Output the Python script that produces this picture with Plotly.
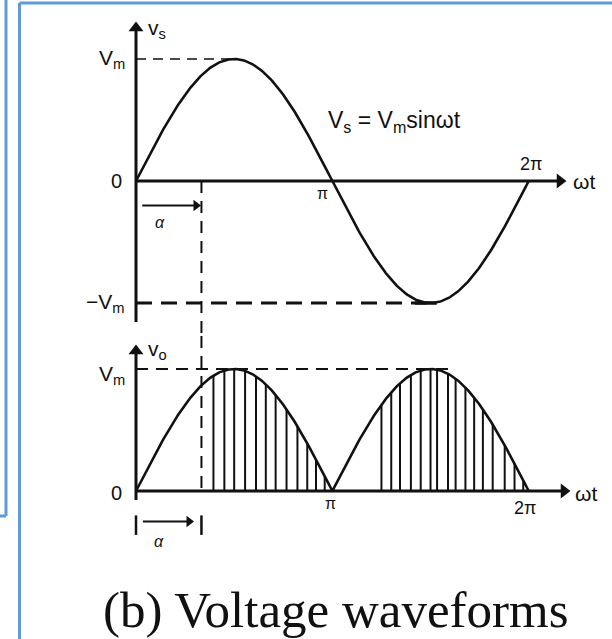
import numpy as np
import plotly.graph_objects as go

# ---------------------------------------------------------------------------
# Data: supply voltage v_s = V_m sin(wt) and rectified output v_o
# ---------------------------------------------------------------------------
V_M = 1.0                      # peak voltage (per unit)
ALPHA_DEG = 60                 # firing angle alpha
OMEGA_T_DEG = np.arange(0, 361, 1)   # one supply cycle, degrees

# hatched conduction strips under v_o, degrees
HATCH_HUMP1_DEG = [71, 81, 90, 100, 110, 119, 128, 138, 148, 157, 165, 173]
HATCH_HUMP2_DEG = [225, 234, 242, 252, 261, 270, 276, 286, 293, 302, 310,
                   318, 327, 338, 347, 355]

# axis tick labels
X_TICK_TEXT = ["π", "2π"]
TOP_Y_TEXT = ["V<sub>m</sub>", "0", "−V<sub>m</sub>"]
BOT_Y_TEXT = ["V<sub>m</sub>", "0"]
FORMULA = "V<sub>s</sub> = V<sub>m</sub>sinωt"
CAPTION = "(b) Voltage waveforms"

# ---------------------------------------------------------------------------
wt = np.deg2rad(OMEGA_T_DEG)
v_s = V_M * np.sin(wt)
v_o = np.abs(v_s)
alpha = np.deg2rad(ALPHA_DEG)
PI = np.pi

INK = "#111111"
SANS = "Liberation Sans, Arial, sans-serif"
SERIF = "Liberation Serif, Times New Roman, serif"

fig = go.Figure()

# supply waveform (top panel)
fig.add_trace(go.Scatter(x=wt, y=v_s, mode="lines", yaxis="y",
                         line=dict(color=INK, width=2.6), hoverinfo="skip"))
# rectified output (bottom panel)
fig.add_trace(go.Scatter(x=wt, y=v_o, mode="lines", yaxis="y2",
                         line=dict(color=INK, width=2.6), hoverinfo="skip"))

# vertical hatching under the conducting part of v_o
hx, hy = [], []
for d in HATCH_HUMP1_DEG + HATCH_HUMP2_DEG:
    r = np.deg2rad(d)
    hx += [r, r, None]
    hy += [0, V_M * abs(np.sin(r)), None]
fig.add_trace(go.Scatter(x=hx, y=hy, mode="lines", yaxis="y2",
                         line=dict(color=INK, width=2), hoverinfo="skip"))

shapes = []
annotations = []


def arrow(x0, y0, x1, y1, yaxis, symbol, width=3, head=13):
    """Line from (x0, y0) to (x1, y1) with a triangular head centred at the end."""
    fig.add_trace(go.Scatter(x=[x0, x1], y=[y0, y1], mode="lines",
                             yaxis=yaxis, line=dict(color=INK, width=width),
                             hoverinfo="skip"))
    fig.add_trace(go.Scatter(x=[x1], y=[y1], mode="markers", yaxis=yaxis,
                             marker=dict(symbol=symbol, size=head, color=INK,
                                         line=dict(width=0)),
                             hoverinfo="skip"))


def dashed(x0, y0, x1, y1, yref, width, dash):
    shapes.append(dict(type="line", xref="x", yref=yref, x0=x0, y0=y0,
                       x1=x1, y1=y1, line=dict(color=INK, width=width,
                                               dash=dash)))


def solid(x0, y0, x1, y1, yref, width):
    shapes.append(dict(type="line", xref="x", yref=yref, x0=x0, y0=y0,
                       x1=x1, y1=y1, line=dict(color=INK, width=width)))


def label(x, y, text, yref, size=17, xanchor="center", italic=False,
          font=SANS):
    annotations.append(dict(x=x, y=y, xref="x", yref=yref, text=text,
                            showarrow=False, xanchor=xanchor,
                            yanchor="middle",
                            font=dict(family=font, size=size, color=INK,
                                      style="italic" if italic else "normal")))


# ---- top panel: v_s ----
dashed(0, V_M, PI / 2, V_M, "y", 1.6, "10px,7px")           # V_m level
dashed(0, -V_M, 3 * PI / 2, -V_M, "y", 3.2, "16px,9px")     # -V_m level
solid(3 * PI / 2 - 0.25, -V_M, 3 * PI / 2 + 0.1, -V_M, "y", 3.5)
dashed(alpha, 0, alpha, -1.27 * V_M, "y", 2, "12px,8px")   # firing instant
arrow(0, -1.156 * V_M, 0, 1.254 * V_M, "y", "triangle-up")  # v_s axis
arrow(0, 0, 6.784, 0, "y", "triangle-right")                # wt axis
arrow(0.1, -0.2, 0.96, -0.2, "y", "triangle-right", 2, 10)  # alpha span

label(-0.14, V_M, TOP_Y_TEXT[0], "y", 21, "right")
label(-0.2, 0, TOP_Y_TEXT[1], "y", 20, "right")
label(-0.14, -V_M, TOP_Y_TEXT[2], "y", 21, "right")
label(0.33, 1.246, "v<sub>s</sub>", "y", 21)
label(PI - 0.16, -0.1, X_TICK_TEXT[0], "y", 16)
label(2 * PI + 0.03, 0.14, X_TICK_TEXT[1], "y", 18)
label(7.17, 0, "ωt", "y", 21)
label(4.13, 0.484, FORMULA, "y", 23)
label(0.38, -0.34, "α", "y", 16, italic=True)

# ---- bottom panel: v_o ----
dashed(0, V_M, 3 * PI / 2 + 0.36, V_M, "y2", 2, "12px,8px")  # V_m level
dashed(alpha, 1.27 * V_M, alpha, 0, "y2", 2, "12px,8px")     # firing instant
solid(0, -0.2, 0, -0.36, "y2", 2.5)                           # alpha span
solid(alpha, -0.2, alpha, -0.36, "y2", 2.5)
arrow(0, -0.074, 0, 1.148 * V_M, "y2", "triangle-up")         # v_o axis
arrow(0, 0, 6.848, 0, "y2", "triangle-right")                 # wt axis
arrow(0.11, -0.25, 0.848, -0.25, "y2", "triangle-right", 2, 10)

label(-0.14, 0.95 * V_M, BOT_Y_TEXT[0], "y2", 21, "right")
label(-0.2, -0.02, BOT_Y_TEXT[1], "y2", 20, "right")
label(0.35, 1.156, "v<sub>o</sub>", "y2", 21)
label(PI - 0.03, -0.1, X_TICK_TEXT[0], "y2", 16)
label(2 * PI - 0.06, -0.14, X_TICK_TEXT[1], "y2", 18)
label(7.2, -0.02, "ωt", "y2", 21)
label(0.36, -0.41, "α", "y2", 16, italic=True)

# caption
W, H = 612, 639
annotations.append(dict(x=336 / W, y=1 - 610 / H, xref="paper", yref="paper",
                        text=CAPTION, showarrow=False, xanchor="center",
                        yanchor="middle",
                        font=dict(family=SERIF, size=51, color=INK)))

# slide frame lines
BLUE = "#5f9bd6"
for x0, y0, x1, y1 in [(6 / W, 1, 6 / W, 1 - 516 / H),
                       (0, 1 - 516 / H, 6 / W, 1 - 516 / H),
                       (19.5 / W, 0, 19.5 / W, 1 - 3 / H),
                       (19.5 / W, 1 - 3 / H, 1, 1 - 3 / H)]:
    shapes.append(dict(type="line", xref="paper", yref="paper", x0=x0,
                       y0=y0, x1=x1, y1=y1,
                       line=dict(color=BLUE, width=3)))

# pixel-consistent data scales: 62.5 px / rad, 122 px / V_m
K_X, K_Y = 62.5, 122.0
fig.update_layout(
    width=W, height=H, margin=dict(l=0, r=0, t=0, b=0),
    paper_bgcolor="white", plot_bgcolor="white", showlegend=False,
    xaxis=dict(range=[-136 / K_X, (W - 136) / K_X], visible=False,
               fixedrange=True),
    yaxis=dict(range=[(181 - H) / K_Y, 181 / K_Y], visible=False,
               fixedrange=True),
    yaxis2=dict(range=[(491 - H) / K_Y, 491 / K_Y], visible=False,
                overlaying="y", fixedrange=True),
    shapes=shapes, annotations=annotations,
)

fig.write_html("out.html")
